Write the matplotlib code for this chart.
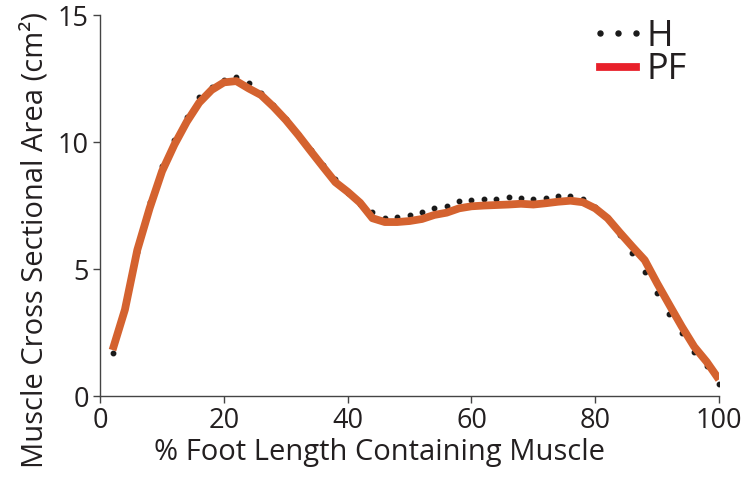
import matplotlib.pyplot as plt
from matplotlib.lines import Line2D

plt.rcParams['font.family'] = ['Open Sans', 'DejaVu Sans']

# % foot length (every 2 %)
pct = list(range(2, 101, 2))

# H: dotted series
h_area = [1.68, 3.54, 5.66, 7.65, 9.07, 10.08, 11.0, 11.76, 12.18, 12.44,
          12.57, 12.31, 11.95, 11.45, 10.9, 10.3, 9.69, 9.09, 8.55, 8.0,
          7.55, 7.23, 7.02, 7.06, 7.13, 7.23, 7.39, 7.47, 7.69, 7.73,
          7.74, 7.74, 7.82, 7.78, 7.77, 7.78, 7.87, 7.87, 7.75, 7.45,
          7.0, 6.34, 5.64, 4.89, 4.04, 3.23, 2.49, 1.74, 1.18, 0.47]

# PF: solid series
pf_area = [1.81, 3.4, 5.75, 7.4, 8.85, 9.9, 10.8, 11.55, 12.05, 12.35,
           12.4, 12.11, 11.85, 11.39, 10.87, 10.28, 9.65, 9.03, 8.42, 8.04,
           7.61, 7.0, 6.85, 6.85, 6.89, 6.97, 7.13, 7.22, 7.39, 7.47,
           7.5, 7.52, 7.54, 7.57, 7.54, 7.59, 7.65, 7.69, 7.63, 7.39,
           7.0, 6.43, 5.88, 5.35, 4.44, 3.58, 2.73, 1.94, 1.35, 0.65]

fig = plt.figure(figsize=(7.42, 4.78), dpi=100)
ax = fig.add_axes([0.135, 0.1715, 0.834, 0.797])

ax.plot(pct, h_area, linestyle='none', marker='o', markersize=3.2,
        color='#1a1a1a', zorder=2)
ax.plot(pct, pf_area, color='#d4622f', linewidth=5.6,
        solid_capstyle='butt', solid_joinstyle='round', zorder=3)

ax.set_xlim(0, 100)
ax.set_ylim(0, 15)
ax.set_xticks([0, 20, 40, 60, 80, 100])
ax.set_yticks([0, 5, 10, 15])

for side in ['top', 'right']:
    ax.spines[side].set_visible(False)
for side in ['left', 'bottom']:
    ax.spines[side].set_color('#444444')
    ax.spines[side].set_linewidth(1.0)
ax.tick_params(direction='out', length=5, width=1.0, colors='#444444',
               labelcolor='#231f20', labelsize=19.5, pad=3)

ax.set_xlabel('% Foot Length Containing Muscle', fontsize=21,
              color='#231f20', labelpad=2, x=0.452)
ax.set_ylabel('Muscle Cross Sectional Area (cm²)', fontsize=21,
              color='#231f20', labelpad=6, y=0.41)

handles = [
    Line2D([], [], linestyle='none', marker='o', markersize=3.6,
           color='#1a1a1a'),
    Line2D([], [], color='#e8202a', linewidth=5.6),
]
ax.legend(handles, ['H', 'PF'], loc='upper left', frameon=False,
          fontsize=26, numpoints=3, handlelength=1.6, handletextpad=0.0,
          labelspacing=-0.07, borderpad=0.0, borderaxespad=0.0,
          bbox_to_anchor=(0.79, 0.99), labelcolor='#231f20')

fig.savefig('out.png', dpi=100)
